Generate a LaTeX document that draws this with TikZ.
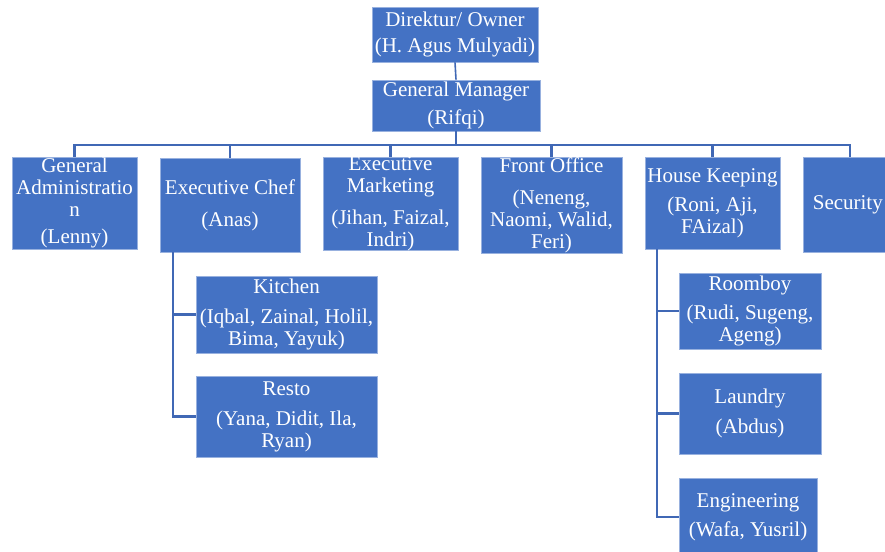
\documentclass[tikz,border=0pt]{standalone}
\usepackage{fontspec}
\setmainfont{Liberation Serif}
\definecolor{boxblue}{HTML}{4472C4}
\definecolor{lineblue}{HTML}{4068B5}
\begin{document}
\begin{tikzpicture}[x=1pt,y=-1pt,
  orgbox/.style={rectangle, fill=boxblue, draw=boxblue!55!white, line width=0.8pt, inner sep=0pt},
  orgtxt/.style={text=white, align=center, inner sep=0pt, font=\fontsize{21}{22}\selectfont},
  conn/.style={draw=lineblue, line width=2.6pt}]
\clip (0,0) rectangle (885,551);
\fill[white] (0,0) rectangle (885,551);

% boxes
\node[orgbox, minimum width=166, minimum height=55] (dir) at (455,34.5) {};
\node[orgbox, minimum width=168, minimum height=51] (gm) at (456,105.5) {};
\node[orgbox, minimum width=125, minimum height=92] (ga) at (74.5,203) {};
\node[orgbox, minimum width=140, minimum height=94] (chef) at (230,205) {};
\node[orgbox, minimum width=135, minimum height=93] (em) at (390.5,203.5) {};
\node[orgbox, minimum width=141, minimum height=96] (fo) at (551.5,205) {};
\node[orgbox, minimum width=135, minimum height=92] (hk) at (712.5,203) {};
\node[orgbox, minimum width=94, minimum height=95] (sec) at (850,204.5) {};
\node[orgbox, minimum width=181, minimum height=77] (kit) at (286.5,314.5) {};
\node[orgbox, minimum width=181, minimum height=81] (res) at (286.5,416.5) {};
\node[orgbox, minimum width=142, minimum height=76] (room) at (750,311) {};
\node[orgbox, minimum width=142, minimum height=81] (laun) at (750,413.5) {};
\node[orgbox, minimum width=138, minimum height=78] (eng) at (748,517) {};

% texts
\node[orgtxt] (dir-t) at (dir.center) {Direktur/ Owner\\[4pt](H. Agus Mulyadi)};
\node[orgtxt] (gm-t) at (gm.center) {General Manager\\[6pt](Rifqi)};
\node[orgtxt] (ga-t) at (ga.center) {General\\Administratio\\n\\[5pt](Lenny)};
\node[orgtxt] (chef-t) at (chef.center) {Executive Chef\\[10pt](Anas)};
\node[orgtxt] (em-t) at (em.center) {Executive\\Marketing\\[10pt](Jihan, Faizal,\\Indri)};
\node[orgtxt] (fo-t) at (fo.center) {Front Office\\[10pt](Neneng,\\Naomi, Walid,\\Feri)};
\node[orgtxt] (hk-t) at (hk.center) {House Keeping\\[7pt](Roni, Aji,\\FAizal)};
\node[orgtxt, anchor=east] (sec-t) at (883,204.5) {Security};
\node[orgtxt] (kit-t) at (kit.center) {Kitchen\\[8pt](Iqbal, Zainal, Holil,\\Bima, Yayuk)};
\node[orgtxt] (res-t) at (res.center) {Resto\\[8pt](Yana, Didit, Ila,\\Ryan)};
\node[orgtxt] (room-t) at (room.center) {Roomboy\\[7pt](Rudi, Sugeng,\\Ageng)};
\node[orgtxt] (laun-t) at (laun.center) {Laundry\\[8pt](Abdus)};
\node[orgtxt] (eng-t) at (eng.center) {Engineering\\[7pt](Wafa, Yusril)};

% connectors
\draw[conn, line width=1.6pt] (dir.south) -- (gm.north);
\foreach \c in {ga,chef,em,fo,hk,sec}{
  \draw[conn] (gm.south) -- ++(0,13.5) -| (\c.north);
}
\coordinate (chefv) at (173,252);
\draw[conn] (chefv) |- (kit.west);
\draw[conn] (chefv) |- (res.west);
\coordinate (hkv) at (657,249);
\draw[conn] (hkv) |- (room.west);
\draw[conn] (hkv) |- (laun.west);
\draw[conn] (hkv) |- (eng.west);
\end{tikzpicture}
\end{document}
